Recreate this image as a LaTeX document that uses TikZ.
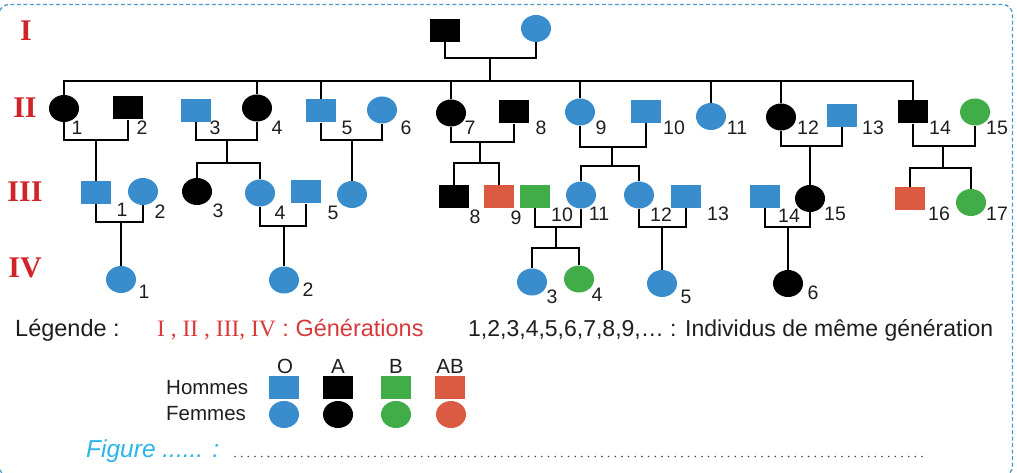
\documentclass[tikz,border=0pt]{standalone}
\usepackage{fontspec}
\setmainfont{Liberation Sans}
\newfontfamily\serifr{Liberation Serif}
\usetikzlibrary{shapes.geometric}
\definecolor{cO}{HTML}{3A8DCD}
\definecolor{cA}{HTML}{000000}
\definecolor{cB}{HTML}{40AD48}
\definecolor{cAB}{HTML}{DB5A42}
\definecolor{genred}{HTML}{D1232A}
\definecolor{txtred}{HTML}{D83A3C}
\definecolor{figcyan}{HTML}{29B5E8}
\definecolor{framec}{HTML}{4C9BCB}
\definecolor{txtdark}{HTML}{1E1E1E}
\begin{document}
\begin{tikzpicture}[x=1pt,y=-1pt,
  male/.style={rectangle, minimum width=30pt, minimum height=23pt, inner sep=0pt, fill=#1},
  female/.style={ellipse, minimum width=30pt, minimum height=27pt, inner sep=0pt, fill=#1},
  num/.style={font=\fontsize{19.5}{19.5}\selectfont, inner sep=0pt, text=txtdark},
  gen/.style={font=\serifr\bfseries\fontsize{30}{30}\selectfont, inner sep=0pt, text=genred},
  link/.style={line width=2.3pt, draw=black},
  legtxt/.style={font=\fontsize{23.5}{23.5}\selectfont, inner sep=0pt, anchor=base west, text=txtdark},
  legsm/.style={font=\fontsize{20.5}{20.5}\selectfont, inner sep=0pt, text=txtdark}]
\useasboundingbox (0,0) rectangle (1017,473);
% frame
\draw[framec, line width=1.3pt, dash pattern=on 4pt off 2.5pt, rounded corners=10pt] (-1,4.5) rectangle (1012.5,476);

% generation labels
\node[gen] (gI) at (26,31) {I};
\node[gen] (gII) at (25,108) {II};
\node[gen] (gIII) at (25,192) {III};
\node[gen] (gIV) at (25,268) {IV};

% Generation I
\node[male=cA] (a1) at (445,30.5) {};
\node[female=cO] (a2) at (536,28.5) {};

% Generation II
\node[female=cA] (p1) at (64,108.5) {};
\node[male=cA] (p2) at (128,108) {};
\node[male=cO] (p3) at (196,110.5) {};
\node[female=cA] (p4) at (257,108) {};
\node[male=cO] (p5) at (321,111) {};
\node[female=cO] (p6) at (382,110) {};
\node[female=cA] (p7) at (451,113) {};
\node[male=cA] (p8) at (514,112) {};
\node[female=cO] (p9) at (580,112) {};
\node[male=cO] (p10) at (646,111.5) {};
\node[female=cO] (p11) at (711,116.5) {};
\node[female=cA] (p12) at (781,117) {};
\node[male=cO] (p13) at (842,115.5) {};
\node[male=cA] (p14) at (913,112) {};
\node[female=cB] (p15) at (975,112) {};

\node[num] (lp1) at (77,128) {1};
\node[num] (lp2) at (142,128) {2};
\node[num] (lp3) at (215,128) {3};
\node[num] (lp4) at (277,128) {4};
\node[num] (lp5) at (347,128) {5};
\node[num] (lp6) at (406,128) {6};
\node[num] (lp7) at (470,128) {7};
\node[num] (lp8) at (541,128) {8};
\node[num] (lp9) at (601,128) {9};
\node[num] (lp10) at (674,128) {10};
\node[num] (lp11) at (737,128) {11};
\node[num] (lp12) at (808,128) {12};
\node[num] (lp13) at (873,128) {13};
\node[num] (lp14) at (940,128) {14};
\node[num] (lp15) at (997,128) {15};

% Generation III
\node[male=cO] (q1) at (96,192.5) {};
\node[female=cO] (q2) at (143,191.5) {};
\node[female=cA] (q3) at (197,191.5) {};
\node[female=cO] (q4) at (260,193) {};
\node[male=cO] (q5) at (306,192) {};
\node[female=cO] (q6) at (352,194.5) {};
\node[male=cA] (q8) at (454,196.5) {};
\node[male=cAB] (q9) at (499,196.5) {};
\node[male=cB] (q10) at (535,196.5) {};
\node[female=cO] (q11) at (581,195) {};
\node[female=cO] (q12) at (639,195) {};
\node[male=cO] (q13) at (686,196.5) {};
\node[male=cO] (q14) at (765,196.5) {};
\node[female=cA] (q15) at (810,198.5) {};
\node[male=cAB] (q16) at (910,198.5) {};
\node[female=cB] (q17) at (971,202.5) {};

\node[num] (lq1) at (122,210) {1};
\node[num] (lq2) at (160,212) {2};
\node[num] (lq3) at (218,211) {3};
\node[num] (lq4) at (280,213) {4};
\node[num] (lq5) at (333,213) {5};
\node[num] (lq8) at (475,217) {8};
\node[num] (lq9) at (516,218) {9};
\node[num] (lq10) at (562,215) {10};
\node[num] (lq11) at (599,214) {11};
\node[num] (lq12) at (661,215) {12};
\node[num] (lq13) at (718,214) {13};
\node[num] (lq14) at (789,216) {14};
\node[num] (lq15) at (835,214) {15};
\node[num] (lq16) at (939,214) {16};
\node[num] (lq17) at (997,214) {17};

% Generation IV
\node[female=cO] (r1) at (121,279.5) {};
\node[female=cO] (r2) at (284,280) {};
\node[female=cO] (r3) at (532,282) {};
\node[female=cB] (r4) at (579,279) {};
\node[female=cO] (r5) at (662,283.5) {};
\node[female=cA] (r6) at (788,283.5) {};

\node[num] (lr1) at (144,292) {1};
\node[num] (lr2) at (308,290) {2};
\node[num] (lr3) at (552,297) {3};
\node[num] (lr4) at (597,295) {4};
\node[num] (lr5) at (686,297) {5};
\node[num] (lr6) at (813,293) {6};

% ---- connectors ----
% Gen I couple and sibship
\coordinate (cI) at (490,58);
\coordinate (sII) at (490,81);
\draw[link] (a1.south) |- (cI) -| (a2.south);
\draw[link] (cI) -- (sII);
\draw[link] (p1.north) |- (sII) -| (p14.north);
\foreach \n in {p4,p5,p7,p9,p11,p12} \draw[link] (\n.north) -- (\n.north |- sII);

% Gen II couples
\coordinate (c12) at (96,140);
\draw[link] (p1.south) |- (c12) -| (p2.south);
\draw[link] (c12) -- (c12 |- q1.north);

\coordinate (c34) at (227,140);
\coordinate (s34) at (227,163);
\draw[link] (p3.south) |- (c34) -| (p4.south);
\draw[link] (c34) -- (s34);
\draw[link] (q3.north) |- (s34) -| (q4.north);

\coordinate (c56) at (352,140);
\draw[link] (p5.south) |- (c56) -| (p6.south);
\draw[link] (c56) -- (q6.north);

\coordinate (c78) at (480,142);
\coordinate (s78) at (480,163);
\draw[link] (p7.south) |- (c78) -| (p8.south);
\draw[link] (c78) -- (s78);
\draw[link] (q8.north) |- (s78) -| (q9.north);

\coordinate (c910) at (612,147);
\coordinate (s910) at (612,166);
\draw[link] (p9.south) |- (c910) -| (p10.south);
\draw[link] (c910) -- (s910);
\draw[link] (q11.north) |- (s910) -| (q12.north);

\coordinate (c1213) at (810,146);
\draw[link] (p12.south) |- (c1213) -| (p13.south);
\draw[link] (c1213) -- (q15.north);

\coordinate (c1415) at (943,146);
\coordinate (s1415) at (943,168);
\draw[link] (p14.south) |- (c1415) -| (p15.south);
\draw[link] (c1415) -- (s1415);
\draw[link] (q16.north) |- (s1415) -| (q17.north);

% Gen III couples
\coordinate (d12) at (121,222);
\draw[link] (q1.south) |- (d12) -| (q2.south);
\draw[link] (d12) -- (r1.north);

\coordinate (d45) at (284,226);
\draw[link] (q4.south) |- (d45) -| (q5.south);
\draw[link] (d45) -- (r2.north);

\coordinate (d1011) at (556,227);
\coordinate (t1011) at (556,248);
\draw[link] (q10.south) |- (d1011) -| (q11.south);
\draw[link] (d1011) -- (t1011);
\draw[link] (r3.north) |- (t1011) -| (r4.north);

\coordinate (d1213) at (662,227);
\draw[link] (q12.south) |- (d1213) -| (q13.south);
\draw[link] (d1213) -- (r5.north);

\coordinate (d1415) at (788,227);
\draw[link] (q14.south) |- (d1415) -| (q15.south);
\draw[link] (d1415) -- (r6.north);

% ---- legend ----
\node[legtxt] (leg) at (15,336) {Légende :};
\node[legtxt, text=txtred] (leggen) at (157,336) {{\serifr I , II , III, IV} : Générations};
\node[legtxt, font=\fontsize{23}{23}\selectfont] (legind) at (468,336) {1,2,3,4,5,6,7,8,9,\dots\ : Individus de même génération};

\node[legsm, anchor=base] (hO) at (285,373) {O};
\node[legsm, anchor=base] (hA) at (338,373) {A};
\node[legsm, anchor=base] (hB) at (396,373) {B};
\node[legsm, anchor=base] (hAB) at (450,373) {AB};

\node[legsm, anchor=base west] (hom) at (166,394) {Hommes};
\node[legsm, anchor=base west] (fem) at (166,420.5) {Femmes};

\node[male=cO] (mO) at (284,387.5) {};
\node[male=cA] (mA) at (338,387.5) {};
\node[male=cB] (mB) at (396,387.5) {};
\node[male=cAB] (mAB) at (450,387.5) {};
\node[female=cO] (fO) at (284,414.5) {};
\node[female=cA] (fA) at (338,414.5) {};
\node[female=cB] (fB) at (396,414.5) {};
\node[female=cAB] (fAB) at (451,414.5) {};

\node[legtxt, text=figcyan, font=\itshape\fontsize{24.5}{24.5}\selectfont] (fig) at (86,457) {Figure ...... :};
\coordinate (dotA) at (235,456.5);
\coordinate (dotB) at (925,456.5);
\draw[line width=1.8pt, draw=black!70, line cap=round, dash pattern=on 0pt off 6.67pt] (dotA) -- (dotB);
\end{tikzpicture}
\end{document}
